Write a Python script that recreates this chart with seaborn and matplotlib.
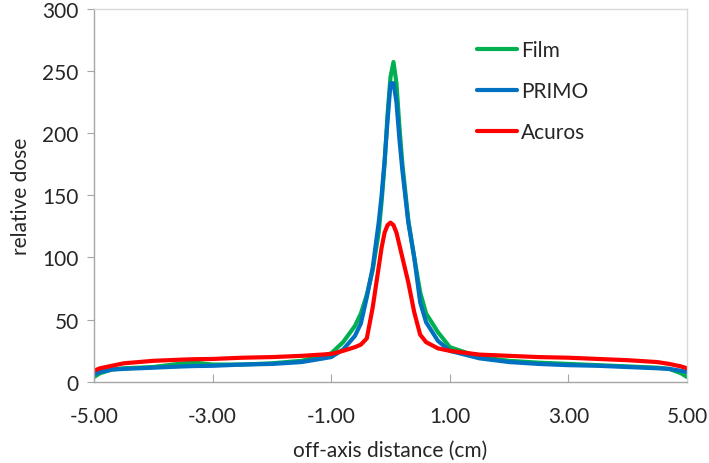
import numpy as np
import pandas as pd
import matplotlib
matplotlib.use("Agg")
import matplotlib.pyplot as plt
import seaborn as sns

# off-axis positions (cm)
x_cm = [-5.0, -4.9, -4.7, -4.5, -4.0, -3.5, -3.3, -3.0, -2.5, -2.0, -1.5, -1.0,
        -0.8, -0.6, -0.5, -0.4, -0.3, -0.2, -0.15, -0.1, -0.05, 0.0, 0.05,
        0.1, 0.15, 0.2, 0.3, 0.4, 0.5, 0.6, 0.8, 1.0, 1.5, 2.0, 2.5, 3.0,
        3.5, 4.0, 4.5, 4.7, 4.9, 5.0]

film = [4, 7, 10, 11, 12, 15, 15.5, 14, 14, 15, 17, 23,
        32, 45, 55, 70, 90, 120, 145, 175, 215, 245, 257,
        240, 205, 175, 130, 100, 72, 55, 40, 28, 20, 17, 15.5, 14.5,
        13.5, 12.5, 11.5, 10.5, 7, 4]

primo = [6, 8, 10, 10.5, 11.5, 12.5, 12.8, 13, 14, 14.5, 16, 20,
         26, 37, 47, 68, 92, 128, 150, 178, 210, 240, 240,
         225, 195, 170, 128, 100, 64, 48, 33, 25, 19, 16, 14.5, 13.5,
         13, 12, 11, 10.5, 9, 8]

acuros = [9, 11, 13, 15, 17, 18, 18.3, 18.5, 19.5, 20, 21, 22.5,
          25, 28, 30, 35, 60, 92, 108, 120, 126, 128, 126,
          120, 110, 100, 80, 56, 38, 32, 27, 25, 22, 21, 20, 19.5,
          18.5, 17.5, 16, 14.5, 12.5, 11]

series = ["Film", "PRIMO", "Acuros"]
colors = {"Film": "#00B050", "PRIMO": "#0070C0", "Acuros": "#FF0000"}

df = pd.concat([
    pd.DataFrame({"x": x_cm, "dose": film, "serie": "Film"}),
    pd.DataFrame({"x": x_cm, "dose": primo, "serie": "PRIMO"}),
    pd.DataFrame({"x": x_cm, "dose": acuros, "serie": "Acuros"}),
])

sns.set_style("white")
plt.rcParams["font.family"] = ["Lato", "DejaVu Sans"]

fig = plt.figure(figsize=(7.09, 4.64), dpi=100)
ax = fig.add_axes([0.1326, 0.1746, 0.8364, 0.8049])

sns.lineplot(data=df, x="x", y="dose", hue="serie", hue_order=series,
             palette=colors, linewidth=3, sort=False, ax=ax)
for line in ax.get_lines():
    line.set_solid_joinstyle("round")
    line.set_solid_capstyle("round")

ax.set_xlim(-5, 5)
ax.set_ylim(0, 300)
ax.set_xticks([-5, -3, -1, 1, 3, 5])
ax.set_xticklabels([f"{v:.2f}" for v in [-5, -3, -1, 1, 3, 5]])
ax.set_yticks(range(0, 301, 50))

ax.set_xlabel("off-axis distance (cm)", fontsize=15, labelpad=10)
ax.set_ylabel("relative dose", fontsize=15, labelpad=8)

for s in ["left", "bottom"]:
    ax.spines[s].set_color("#A6A6A6")
for s in ["top", "right"]:
    ax.spines[s].set_color("#D9D9D9")
for s in ax.spines.values():
    s.set_linewidth(1.0)

ax.tick_params(axis="y", direction="out", length=5, color="#A6A6A6",
               labelsize=15, left=True, pad=6)
ax.tick_params(axis="x", direction="in", length=6, color="#A6A6A6",
               labelsize=15, bottom=True, pad=17)

leg = ax.legend(loc="upper left", bbox_to_anchor=(0.615, 0.965), frameon=False,
                fontsize=15, handlelength=1.9, handletextpad=0.2,
                labelspacing=1.0)
for line in leg.get_lines():
    line.set_linewidth(3)

fig.savefig("out.png", dpi=100)
